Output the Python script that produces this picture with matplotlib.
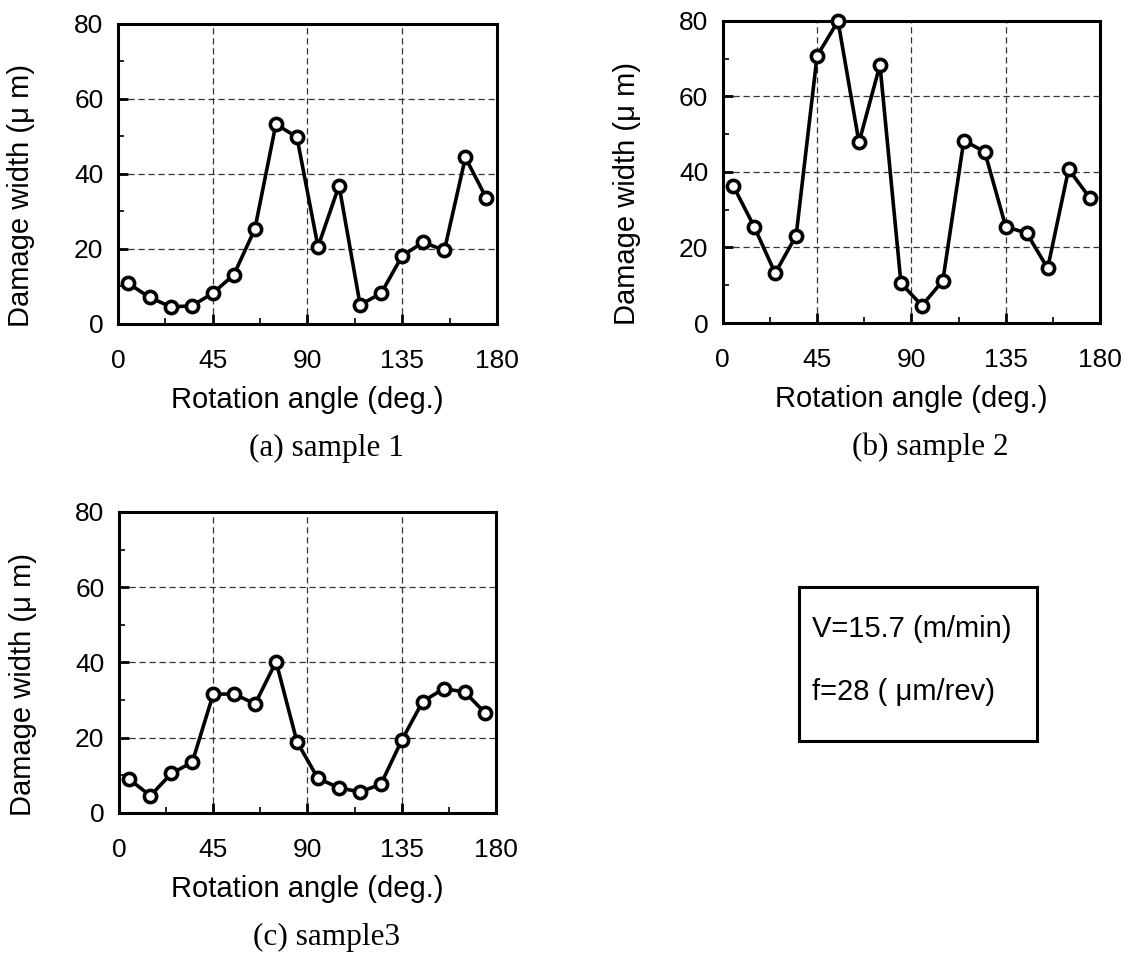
import matplotlib
matplotlib.use("Agg")
import matplotlib.pyplot as plt
from matplotlib.ticker import MultipleLocator
from matplotlib.patches import Rectangle

plt.rcParams['font.family'] = ['Liberation Sans', 'DejaVu Sans']

# rotation angles (deg.), one point every 10 deg.
angle = [5, 15, 25, 35, 45, 55, 65, 75, 85, 95, 105, 115, 125, 135, 145, 155, 165, 175]

# damage width (um) for each sample
sample1 = [10.8, 7.1, 4.6, 4.8, 8.2, 13.1, 25.3, 53.3, 49.8, 20.6,
           36.9, 5.1, 8.2, 18.2, 21.8, 19.6, 44.4, 33.5]
sample2 = [36.3, 25.5, 13.2, 23.1, 70.7, 79.9, 47.8, 68.3, 10.6, 4.6,
           11.2, 48.3, 45.3, 25.5, 23.8, 14.5, 40.7, 33.2]
sample3 = [8.9, 4.6, 10.5, 13.5, 31.6, 31.6, 29.0, 40.2, 18.9, 9.2,
           6.7, 5.6, 7.6, 19.3, 29.6, 33.0, 32.2, 26.5]

xticks = [0, 45, 90, 135, 180]
yticks = [0, 20, 40, 60, 80]
captions = ['(a) sample 1', '(b) sample 2', '(c) sample3']

fig = plt.figure(figsize=(11.3, 9.56), dpi=100)

positions = [
    [0.1044, 0.6611, 0.3354, 0.3138],
    [0.6396, 0.6621, 0.3339, 0.3162],
    [0.1053, 0.1496, 0.3336, 0.3149],
]

for pos, ydata, cap in zip(positions, [sample1, sample2, sample3], captions):
    ax = fig.add_axes(pos)
    ax.plot(angle, ydata, '-o', color='black', lw=2.6, ms=8.8,
            mfc='white', mec='black', mew=2.6, zorder=3, clip_on=False)
    ax.set_xlim(0, 180)
    ax.set_ylim(0, 80)
    ax.set_xticks(xticks)
    ax.set_yticks(yticks)
    ax.xaxis.set_minor_locator(MultipleLocator(22.5))
    ax.yaxis.set_minor_locator(MultipleLocator(10))
    ax.tick_params(which='both', direction='in', top=False, right=False,
                   labelsize=19, color='black')
    ax.tick_params(which='major', length=7, width=2)
    ax.tick_params(which='minor', length=4, width=1.2)
    ax.tick_params(axis='x', which='major', pad=18)
    ax.tick_params(axis='y', which='major', pad=10.5)
    ax.grid(True, which='major', linestyle=(0, (5, 3)), color='#333333', lw=0.9)
    for s in ax.spines.values():
        s.set_linewidth(2.2)
    ax.set_xlabel('Rotation angle (deg.)', fontsize=21, va='center')
    ax.xaxis.set_label_coords(0.5, -0.252)
    ax.set_ylabel('Damage width (\u03bc m)', fontsize=21, va='center')
    ax.yaxis.set_label_coords(-0.2546, 0.427)
    cx = pos[0] + pos[2] / 2 + 19 / 1130
    fig.text(cx, pos[1] - 124 / 956, cap, ha='center', va='center',
             fontsize=22.5, family='Liberation Serif')

# condition box
fig.patches.append(Rectangle((799 / 1130, 1 - 741 / 956), 238 / 1130, 154 / 956,
                             transform=fig.transFigure, fill=False,
                             lw=2.2, edgecolor='black'))
fig.text(812 / 1130, 1 - 629 / 956, 'V=15.7 (m/min)', fontsize=21,
         ha='left', va='center')
fig.text(812 / 1130, 1 - 692 / 956, 'f=28 ( \u03bcm/rev)', fontsize=21,
         ha='left', va='center')

fig.savefig('out.png', dpi=100)
